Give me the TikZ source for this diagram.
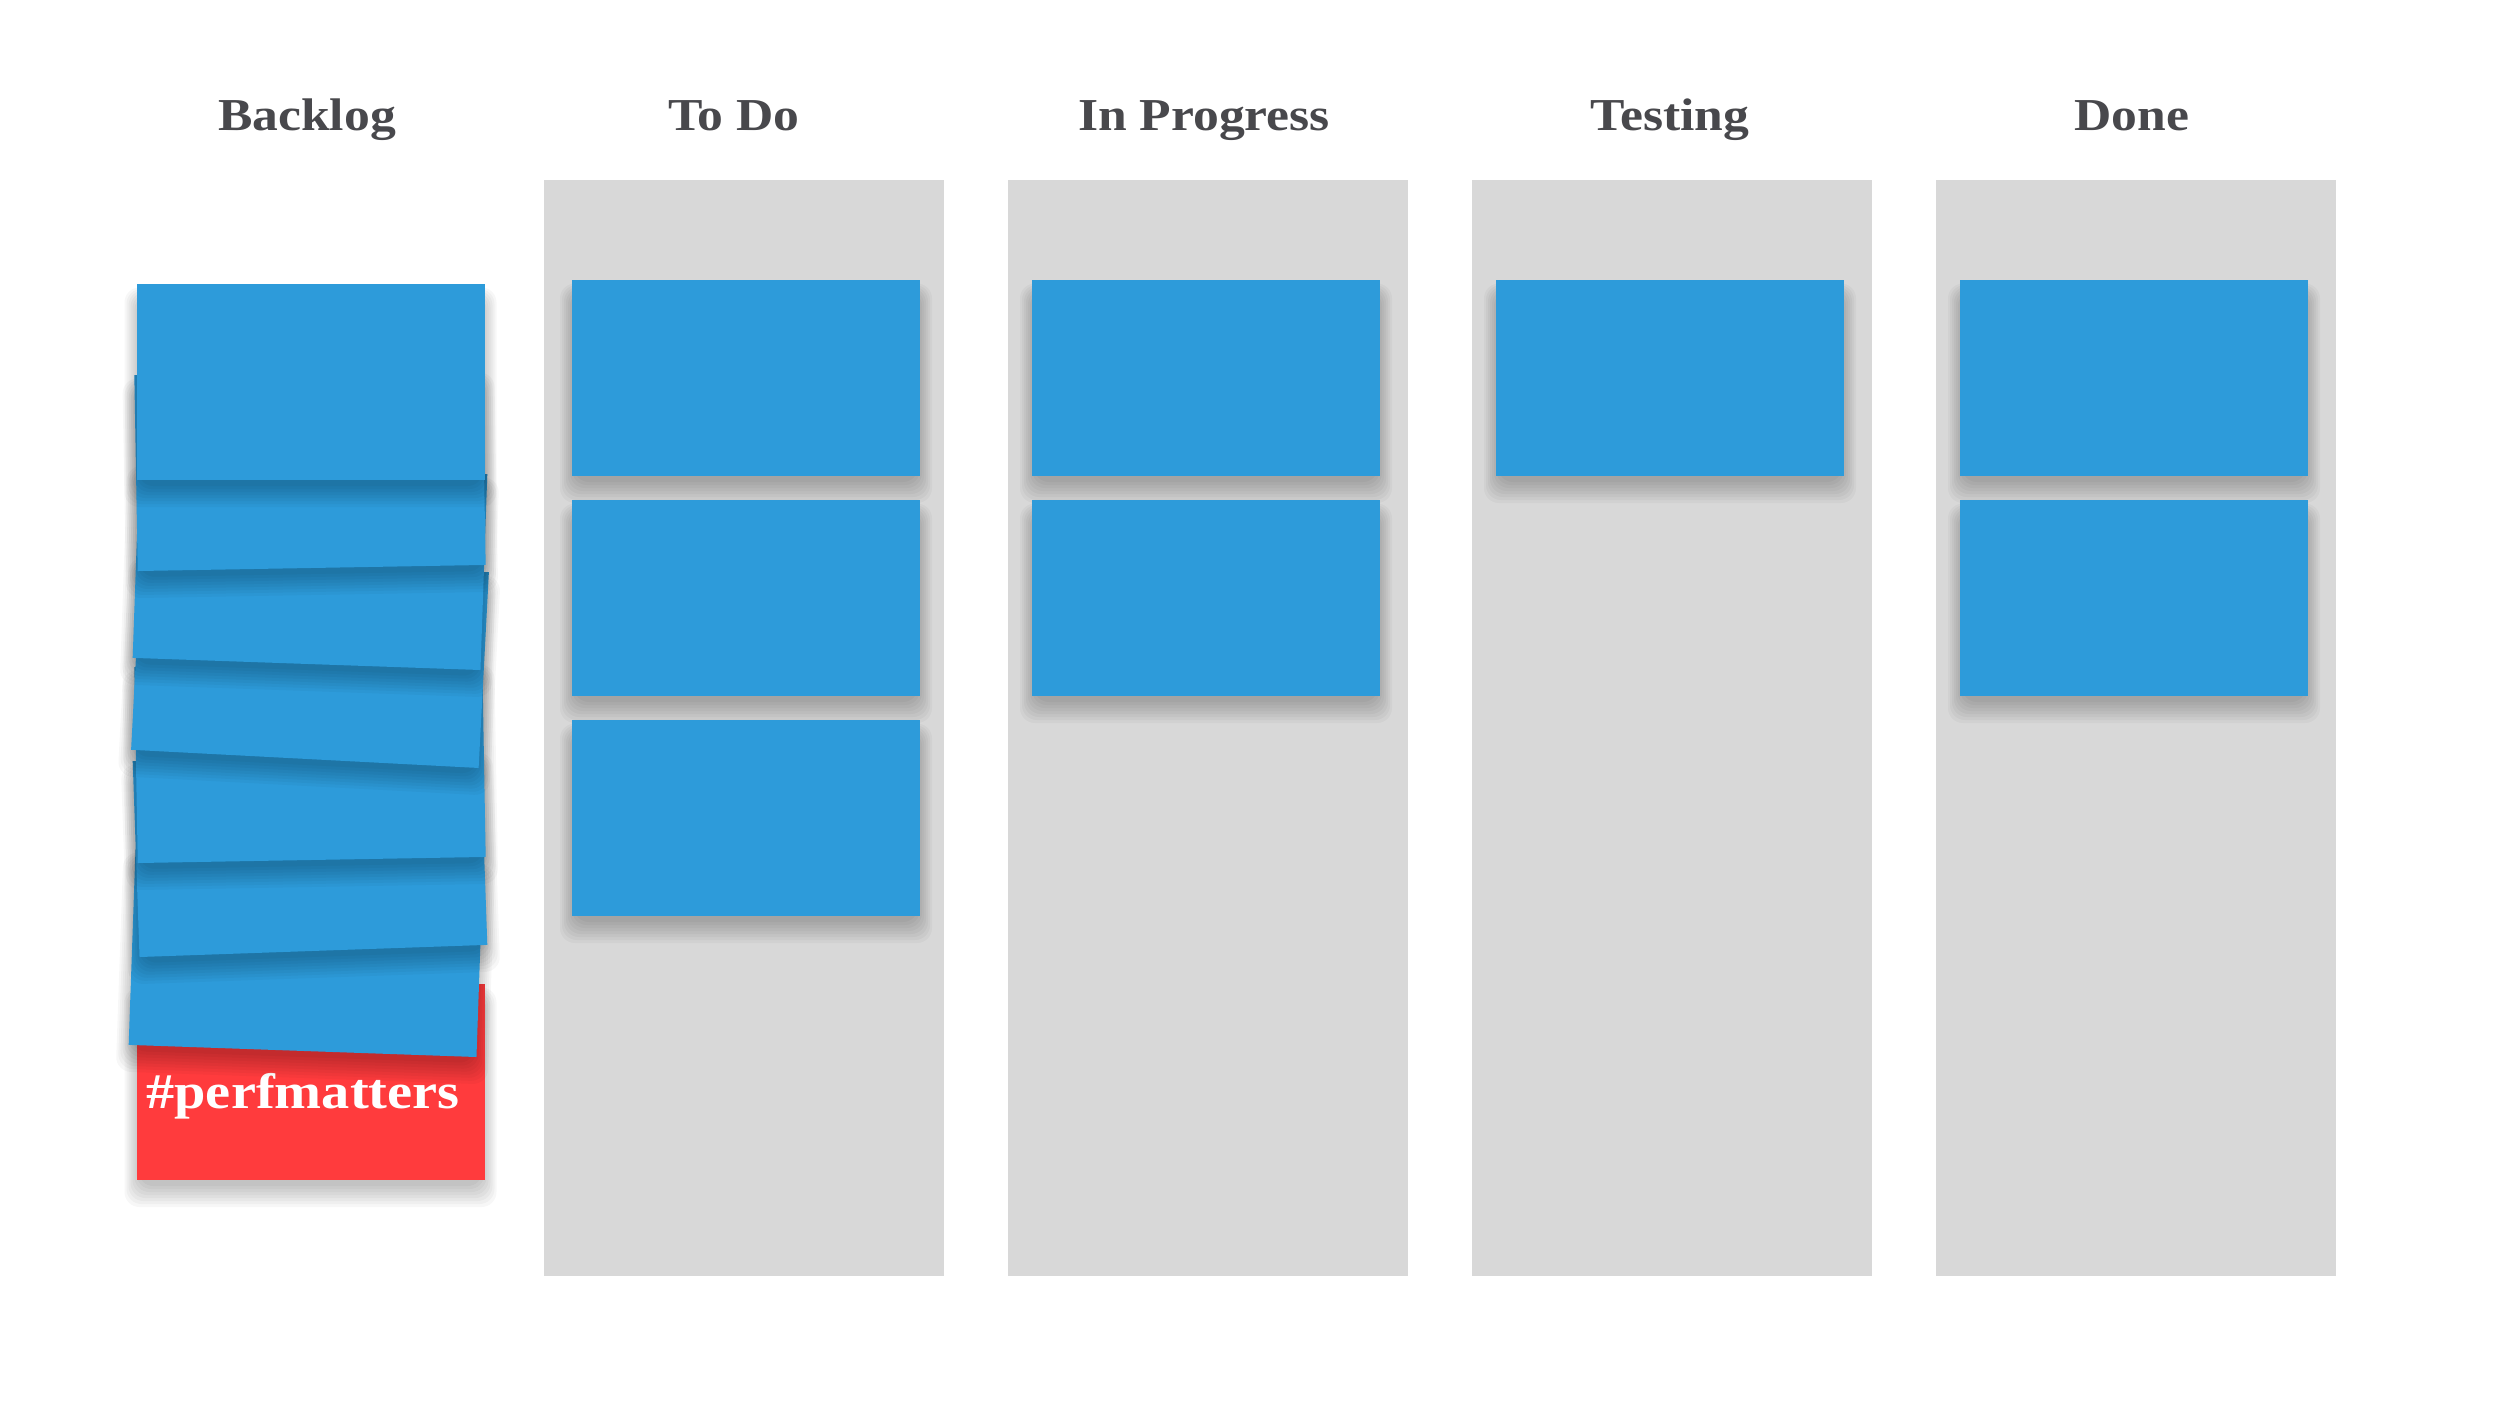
\documentclass[tikz,border=0pt]{standalone}
\usepackage{fontspec}
\setmainfont{Liberation Serif}[FakeStretch=1.13]

\definecolor{cardblue}{HTML}{2D9BDA}
\definecolor{cardred}{HTML}{FF3B3D}
\definecolor{lanegray}{HTML}{D8D8D8}
\definecolor{headgray}{HTML}{48484C}

% A card with its soft shadow: name, x, y, angle, colour
\newcommand{\postit}[5]{%
    \begin{scope}[shift={(#2,#3)}, rotate=#4]
        \foreach \k in {0,...,7} {
            \fill[black, opacity=0.032, rounded corners=1.5mm]
                (-172-2*\k, -104-3*\k) rectangle (172+2*\k, 84+1.5*\k);
        }
    \end{scope}
    \node[card=#5, rotate=#4] (#1) at (#2,#3) {};
}

\begin{document}
\begin{tikzpicture}[x=0.1mm, y=0.1mm,
    card/.style={fill=#1, minimum width=34.8mm, minimum height=19.6mm, inner sep=0pt},
    card/.default=cardblue,
    heading/.style={anchor=base, text=headgray, font=\fontsize{13}{16}\selectfont\bfseries}]

    % Canvas
    \useasboundingbox[fill=white] (0,0) rectangle (2496,-1404);

    % Define lane size
    \def\lanewidth{400}
    \def\laneheight{1096}

    % Lanes
    \foreach \x in {544, 1008, 1472, 1936} {
        \fill[lanegray] (\x,-180) rectangle (\x+\lanewidth, -180-\laneheight);
    }

    % Headings
    \node[heading] (hbacklog) at (307,-130) {Backlog};
    \node[heading] (htodo)    at (734,-130) {To Do};
    \node[heading] (hprog)    at (1204,-130) {In Progress};
    \node[heading] (htest)    at (1670,-130) {Testing};
    \node[heading] (hdone)    at (2132,-130) {Done};

    % Cards on the board
    \foreach \y [count=\i] in {378, 598, 818} {
        \postit{todo\i}{746}{-\y}{0}{cardblue}
    }
    \foreach \y [count=\i] in {378, 598} {
        \postit{prog\i}{1206}{-\y}{0}{cardblue}
        \postit{done\i}{2134}{-\y}{0}{cardblue}
    }
    \postit{test1}{1670}{-378}{0}{cardblue}

    % Backlog pile, bottom card first
    \postit{perf}{310.5}{-1082}{0}{cardred}
    \node[anchor=base, text=white, font=\fontsize{14.2}{17}\selectfont\bfseries] (perftag) at (303,-1108) {\#perfmatters};
    \foreach \x/\y/\a [count=\i] in {306/953/-2, 310/853/2, 310/762/1, 310/661/-3, 310/566/-2, 310/470/1, 310.5/382/0} {
        \postit{back\i}{\x}{-\y}{\a}{cardblue}
    }
\end{tikzpicture}
\end{document}
